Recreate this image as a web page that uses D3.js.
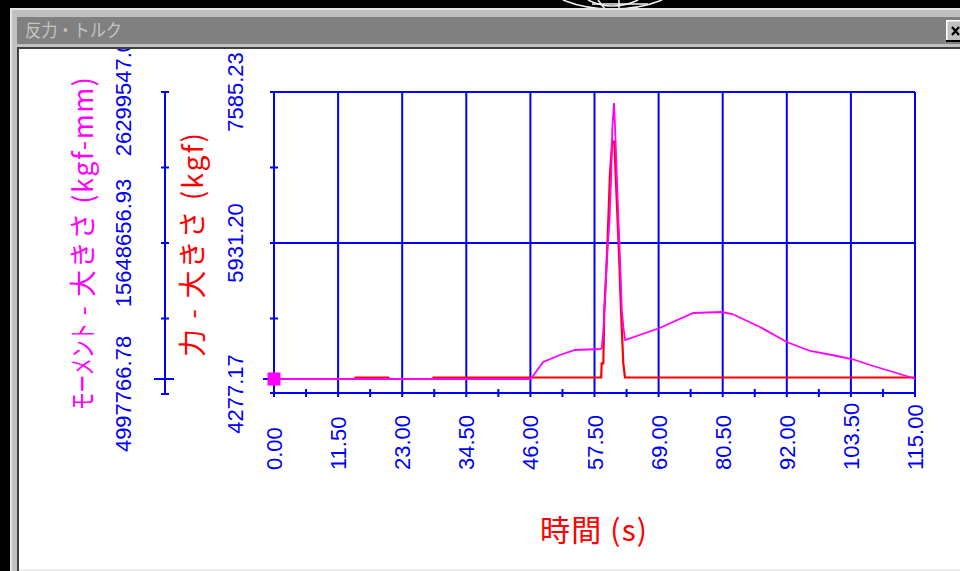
<!DOCTYPE html>
<html>
<head>
<meta charset="utf-8">
<script src="https://cdn.jsdelivr.net/npm/d3@7"></script>
<style>
  html, body { margin: 0; padding: 0; background: #000; }
  svg { display: block; }
  text { white-space: pre; }
</style>
</head>
<body>
<svg id="chart" width="960" height="571"></svg>
<script>
// ---- texts ----
const windowTitle = "反力・トルク";
const xTitle = "時間 (s)";
const forceTitle = "力 - 大きさ (kgf)";
const momentTitleHead = "モーメント";
const momentTitleTail = " - 大きさ (kgf-mm)";

// ---- axis ticks ----
const timeTicks = [0, 11.5, 23, 34.5, 46, 57.5, 69, 80.5, 92, 103.5, 115];
const forceTicks = [4277.17, 5931.20, 7585.23];
const momentTicks = [4997766.78, 15648656.93, 26299547.08];

// ---- force magnitude (kgf) over time (s) ----
const forceTime  = [0, 14.5, 14.6, 20.5, 20.6, 28.5, 28.6, 58.7, 58.79, 59.08, 59.26, 59.69, 59.98, 60.28, 60.69, 61.05, 61.59, 61.95, 62.25, 62.67, 62.97, 115];
const forceValue = [4441.5, 4441.5, 4457.9, 4457.9, 4441.5, 4441.5, 4457.9, 4457.9, 4613.5, 4613.5, 5197.3, 5726.4, 6183.2, 6694.7, 7040.9, 7040.9, 6256.6, 5726.4, 5197.3, 4613.5, 4457.9, 4457.9];

// ---- moment magnitude (kgf-mm) over time (s) ----
const momentTime  = [0, 46.0, 46.2, 48.3, 51.3, 54.0, 58.5, 58.8, 59.1, 59.4, 59.7, 60.2, 60.5, 60.7, 61.0, 61.2, 61.5, 61.8, 62.1, 62.4, 62.7, 63.0, 69.2, 75.2, 80.4, 82.2, 87.2, 92.0, 96.2, 101.0, 103.7, 107.5, 111.1, 114.6, 115];
const momentValue = [6055802, 6055802, 6126338, 7254909, 7748659, 8101338, 8171873, 8242409, 9512052, 11769194, 14449550, 17270978, 20445085, 23760263, 25523655, 23760263, 20445085, 17270978, 14308479, 10922766, 9653123, 8806695, 9653123, 10711159, 10781695, 10640623, 9723659, 8665623, 8030803, 7678124, 7466517, 6972767, 6549552, 6126338, 6055802];

// ---- colours ----
const BLUE = "#0000ff", RED = "#ff0000", MAGENTA = "#ff00ff";
const FACE = "#c0c0c0", DARK = "#404040", CAPTION = "#808080";

const svg = d3.select("#chart");

// ---- window frame ----
svg.append("rect").attr("x", 0).attr("y", 0).attr("width", 960).attr("height", 571).attr("fill", "#000");
// little globe ornament peeking above the window
const orn = svg.append("g").attr("fill", "none").attr("stroke", "#f4f4f4").attr("stroke-width", 1.5);
orn.append("path").attr("d", "M563,0 Q585,9 612,9 Q640,9 662,0");
orn.append("path").attr("d", "M588,0 Q600,6 612,6 Q626,6 638,0");
orn.append("path").attr("d", "M619,0 V9");
orn.append("path").attr("d", "M592,4 H648");
orn.append("path").attr("d", "M598,0 Q602,5 605,9");

svg.append("rect").attr("x", 10).attr("y", 8).attr("width", 950).attr("height", 563).attr("fill", FACE);
svg.append("rect").attr("x", 10).attr("y", 8).attr("width", 950).attr("height", 2).attr("fill", "#e6e6e6");
svg.append("rect").attr("x", 10).attr("y", 8).attr("width", 2).attr("height", 563).attr("fill", "#e6e6e6");
svg.append("rect").attr("x", 17).attr("y", 17).attr("width", 943).attr("height", 27).attr("fill", CAPTION);
svg.append("rect").attr("x", 17).attr("y", 47).attr("width", 943).attr("height", 2).attr("fill", DARK);
svg.append("rect").attr("x", 17).attr("y", 47).attr("width", 2).attr("height", 524).attr("fill", DARK);
svg.append("rect").attr("x", 19).attr("y", 49).attr("width", 941).attr("height", 522).attr("fill", "#fff");
svg.append("rect").attr("x", 19).attr("y", 569).attr("width", 941).attr("height", 2).attr("fill", "#ececec");

svg.append("text")
  .attr("x", 25).attr("y", 29)
  .attr("dominant-baseline", "central")
  .attr("font-family", "'Noto Sans CJK JP', sans-serif")
  .attr("font-size", 18)
  .attr("fill", "#c4c4c4")
  .attr("textLength", 97).attr("lengthAdjust", "spacingAndGlyphs")
  .text(windowTitle);

// close button, cut by the right edge
const btn = svg.append("g");
btn.append("rect").attr("x", 946).attr("y", 20).attr("width", 20).attr("height", 22).attr("fill", FACE);
btn.append("rect").attr("x", 946).attr("y", 20).attr("width", 20).attr("height", 1.5).attr("fill", "#fff");
btn.append("rect").attr("x", 946).attr("y", 20).attr("width", 1.5).attr("height", 22).attr("fill", "#fff");
btn.append("rect").attr("x", 946).attr("y", 40).attr("width", 20).attr("height", 2).attr("fill", "#000");
btn.append("path").attr("d", "M952,27 L959,35 M959,27 L952,35").attr("stroke", "#000").attr("stroke-width", 2.2);

// ---- chart, clipped to the client area ----
svg.append("defs").append("clipPath").attr("id", "client")
  .append("rect").attr("x", 19).attr("y", 49).attr("width", 941).attr("height", 520);
const g = svg.append("g").attr("clip-path", "url(#client)");

const L = 274, R = 915, T = 92, B = 393;
const x  = d3.scaleLinear().domain([timeTicks[0], timeTicks[timeTicks.length - 1]]).range([L, R]);
const yF = d3.scaleLinear().domain([forceTicks[0], forceTicks[forceTicks.length - 1]]).range([394, T]);
const yM = d3.scaleLinear().domain([momentTicks[0], momentTicks[momentTicks.length - 1]]).range([394, T]);

const midpoints = arr => d3.pairs(arr).map(([a, b]) => (a + b) / 2);
const timeMinor = midpoints(timeTicks);
const forceMinor = midpoints(forceTicks);
const momentMinor = midpoints(momentTicks);

const grid = g.append("g").attr("stroke", BLUE).attr("stroke-width", 2).attr("fill", "none");

// vertical grid lines (and the force axis / right border), crossing the time axis
grid.selectAll("line.v").data(timeTicks).join("line")
  .attr("x1", d => x(d)).attr("x2", d => x(d))
  .attr("y1", T).attr("y2", B + 4);
// horizontal lines at force ticks above the bottom
grid.selectAll("line.h").data(forceTicks.slice(1)).join("line")
  .attr("x1", L - 4).attr("x2", R)
  .attr("y1", d => yF(d)).attr("y2", d => yF(d));
// time axis line
grid.append("line").attr("x1", L - 4).attr("x2", R).attr("y1", B).attr("y2", B);
// minor crosses on time axis
grid.selectAll("line.tm").data(timeMinor).join("line")
  .attr("x1", d => x(d)).attr("x2", d => x(d))
  .attr("y1", B - 4).attr("y2", B + 4);
// minor crosses on force axis
grid.selectAll("line.fm").data(forceMinor).join("line")
  .attr("x1", L - 4).attr("x2", L + 4)
  .attr("y1", d => yF(d)).attr("y2", d => yF(d));

// moment axis
const MX = 165;
grid.append("line").attr("x1", MX).attr("x2", MX).attr("y1", yM(momentTicks[2])).attr("y2", yM(momentTicks[0]));
grid.selectAll("line.mt").data(momentTicks.concat(momentMinor)).join("line")
  .attr("x1", MX - 4).attr("x2", MX + 4)
  .attr("y1", d => yM(d)).attr("y2", d => yM(d));

// current-value crosses on both vertical axes
grid.append("line").attr("x1", MX - 11).attr("x2", MX + 9)
  .attr("y1", yM(momentValue[0])).attr("y2", yM(momentValue[0]));
grid.append("line").attr("x1", L - 11).attr("x2", L + 4)
  .attr("y1", yF(forceValue[0])).attr("y2", yF(forceValue[0]));

// ---- tick labels ----
const tickFont = "'Liberation Sans', Arial, sans-serif";
g.selectAll("text.xt").data(timeTicks).join("text")
  .attr("transform", d => `translate(${x(d) + 8},470) rotate(-90)`)
  .attr("font-family", tickFont).attr("font-size", 22).attr("fill", BLUE)
  .attr("text-anchor", "start")
  .text(d => d.toFixed(2));

g.selectAll("text.ft").data(forceTicks).join("text")
  .attr("transform", d => `translate(243,${yF(d)}) rotate(-90)`)
  .attr("font-family", tickFont).attr("font-size", 22).attr("fill", BLUE)
  .attr("text-anchor", "middle")
  .text(d => d.toFixed(2));

g.selectAll("text.mt").data(momentTicks).join("text")
  .attr("transform", d => `translate(131,${yM(d)}) rotate(-90)`)
  .attr("font-family", tickFont).attr("font-size", 22).attr("fill", BLUE)
  .attr("text-anchor", "middle")
  .text(d => d.toFixed(2));

// ---- axis titles ----
const cjk = "'Noto Sans CJK JP', sans-serif";
g.append("text")
  .attr("transform", "translate(191,357) rotate(-90)")
  .attr("dominant-baseline", "central")
  .attr("font-family", cjk).attr("font-size", 28).attr("fill", RED)
  .attr("textLength", 224).attr("lengthAdjust", "spacing")
  .text(forceTitle);

g.append("text")
  .attr("transform", "translate(81,410) rotate(-90)")
  .attr("dominant-baseline", "central")
  .attr("font-family", cjk).attr("font-size", 27).attr("fill", MAGENTA)
  .attr("textLength", 87).attr("lengthAdjust", "spacingAndGlyphs")
  .text(momentTitleHead);
g.append("text")
  .attr("transform", "translate(81,323) rotate(-90)")
  .attr("dominant-baseline", "central")
  .attr("font-family", cjk).attr("font-size", 27).attr("fill", MAGENTA)
  .attr("textLength", 246).attr("lengthAdjust", "spacing")
  .text(momentTitleTail);

g.append("text")
  .attr("x", 540).attr("y", 528)
  .attr("dominant-baseline", "central")
  .attr("font-family", cjk).attr("font-size", 30).attr("fill", RED)
  .attr("textLength", 107).attr("lengthAdjust", "spacing")
  .text(xTitle);

// ---- series ----
const forceLine = d3.line().x(i => x(forceTime[i])).y(i => yF(forceValue[i]));
const momentLine = d3.line().x(i => x(momentTime[i])).y(i => yM(momentValue[i]));

g.append("path")
  .attr("d", forceLine(d3.range(forceTime.length)))
  .attr("fill", "none").attr("stroke", RED).attr("stroke-width", 2.2)
  .attr("stroke-linejoin", "miter");

g.append("path")
  .attr("d", momentLine(d3.range(momentTime.length)))
  .attr("fill", "none").attr("stroke", MAGENTA).attr("stroke-width", 1.8)
  .attr("stroke-linejoin", "miter");

// marker on the first moment sample
g.append("rect")
  .attr("x", x(momentTime[0]) - 6.5).attr("y", yM(momentValue[0]) - 6.5)
  .attr("width", 13).attr("height", 13)
  .attr("fill", MAGENTA);
</script>
</body>
</html>
